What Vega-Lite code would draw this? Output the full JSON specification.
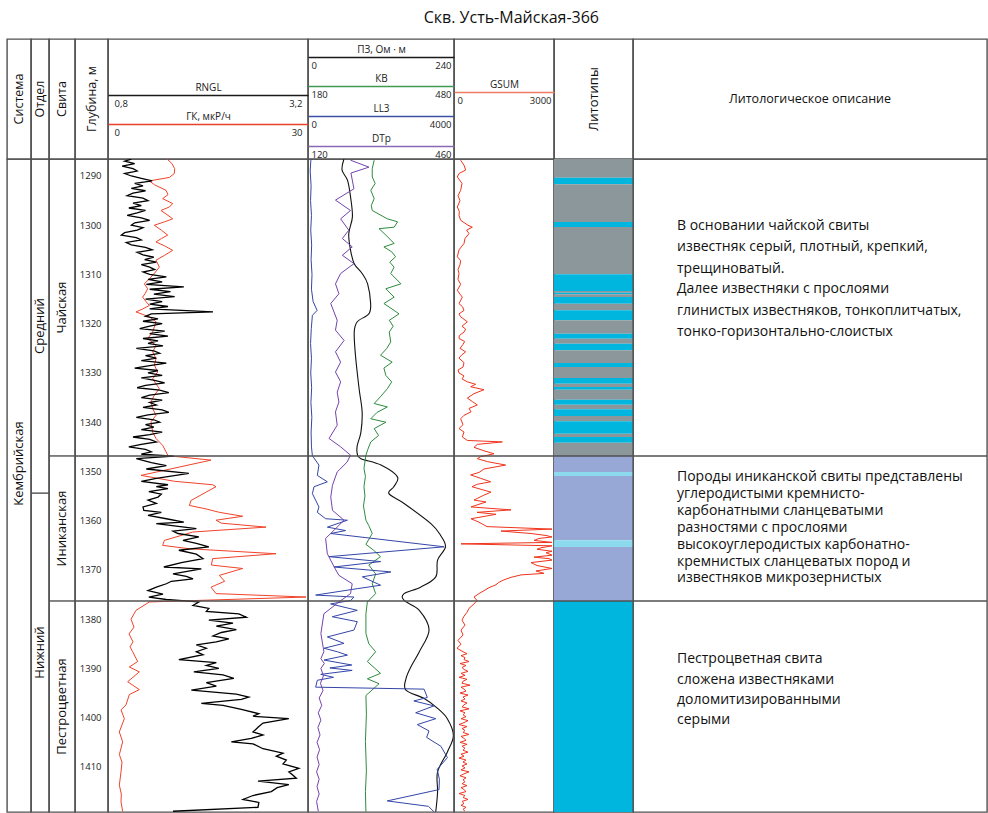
{
"$schema":"https://vega.github.io/schema/vega-lite/v6.json",
"padding":{"left":6,"top":10,"right":0,"bottom":0},
"title":{"text":"Скв. Усть-Майская-366","fontSize":16,"fontWeight":"normal","font":"Open Sans","color":"#111","anchor":"middle","offset":12,"dx":14},
"columns":9,
"spacing":0,
"bounds":"flush",
"align":"each",
"datasets":{
"units":[
{"lvl":"Система","name":"Кембрийская","top":1286.55,"bot":1419.15},
{"lvl":"Отдел","name":"Средний","top":1286.55,"bot":1354.4},
{"lvl":"Отдел","name":"Нижний","top":1354.4,"bot":1419.15},
{"lvl":"Свита","name":"Чайская","top":1286.55,"bot":1346.85},
{"lvl":"Свита","name":"Иниканская","top":1346.85,"bot":1376.3},
{"lvl":"Свита","name":"Пестроцветная","top":1376.3,"bot":1419.15}],
"bnd":[{"lvl":"Свита","d":1346.85},{"lvl":"Свита","d":1376.3},{"lvl":"Отдел","d":1354.4}],
"lith":[
{"top":1286.55,"bot":1290.35,"lith":"известняк серый"},
{"top":1290.35,"bot":1291.69,"lith":"известняк"},
{"top":1291.69,"bot":1299.34,"lith":"известняк серый"},
{"top":1299.34,"bot":1300.36,"lith":"известняк"},
{"top":1300.36,"bot":1309.96,"lith":"известняк серый"},
{"top":1309.96,"bot":1313.35,"lith":"известняк"},
{"top":1313.35,"bot":1313.7,"lith":"известняк серый"},
{"top":1313.7,"bot":1314.02,"lith":"известняк"},
{"top":1314.02,"bot":1314.57,"lith":"известняк серый"},
{"top":1314.57,"bot":1315.93,"lith":"известняк"},
{"top":1315.93,"bot":1317.27,"lith":"известняк серый"},
{"top":1317.27,"bot":1319.3,"lith":"известняк"},
{"top":1319.3,"bot":1322.02,"lith":"известняк серый"},
{"top":1322.02,"bot":1323.04,"lith":"известняк"},
{"top":1323.04,"bot":1324.05,"lith":"известняк серый"},
{"top":1324.05,"bot":1325.39,"lith":"известняк"},
{"top":1325.39,"bot":1327.97,"lith":"известняк серый"},
{"top":1327.97,"bot":1328.78,"lith":"известняк"},
{"top":1328.78,"bot":1331.02,"lith":"известняк серый"},
{"top":1331.02,"bot":1332.17,"lith":"известняк"},
{"top":1332.17,"bot":1332.84,"lith":"известняк серый"},
{"top":1332.84,"bot":1333.39,"lith":"известняк"},
{"top":1333.39,"bot":1335.42,"lith":"известняк серый"},
{"top":1335.42,"bot":1336.44,"lith":"известняк"},
{"top":1336.44,"bot":1337.37,"lith":"известняк серый"},
{"top":1337.37,"bot":1338.73,"lith":"известняк"},
{"top":1338.73,"bot":1339.81,"lith":"известняк серый"},
{"top":1339.81,"bot":1342.32,"lith":"известняк"},
{"top":1342.32,"bot":1343.0,"lith":"известняк серый"},
{"top":1343.0,"bot":1344.15,"lith":"известняк"},
{"top":1344.15,"bot":1346.85,"lith":"известняк серый"},
{"top":1346.85,"bot":1350.1,"lith":"сланцы"},
{"top":1350.1,"bot":1350.91,"lith":"прослой"},
{"top":1350.91,"bot":1363.97,"lith":"сланцы"},
{"top":1363.97,"bot":1365.33,"lith":"прослой"},
{"top":1365.33,"bot":1376.3,"lith":"сланцы"},
{"top":1376.3,"bot":1419.15,"lith":"известняк"}],
"desc":[
{"d":1300.15,"t":"В основании чайской свиты"},
{"d":1304.5,"t":"известняк серый, плотный, крепкий,"},
{"d":1308.8,"t":"трещиноватый."},
{"d":1313.0,"t":"Далее известняки с прослоями"},
{"d":1317.4,"t":"глинистых известняков, тонкоплитчатых,"},
{"d":1321.7,"t":"тонко-горизонтально-слоистых"},
{"d":1351.2,"t":"Породы иниканской свиты представлены"},
{"d":1354.6,"t":"углеродистыми кремнисто-"},
{"d":1358.05,"t":"карбонатными сланцеватыми"},
{"d":1361.5,"t":"разностями с прослоями"},
{"d":1365.0,"t":"высокоуглеродистых  карбонатно-"},
{"d":1368.45,"t":"кремнистых сланцеватых пород и"},
{"d":1371.7,"t":"известняков микрозернистых"},
{"d":1388.07,"t":"Пестроцветная свита"},
{"d":1392.34,"t":"сложена известняками"},
{"d":1396.4,"t":"доломитизированными"},
{"d":1400.46,"t":"серыми"}],
"rngl":[
{"d":1286.6,"v":1.08},{"d":1287,"v":1.0},{"d":1287.5,"v":1.12},{"d":1288,"v":0.97},{"d":1288.5,"v":1.1},{"d":1289,"v":1.15},{"d":1289.5,"v":1.0},{"d":1290,"v":1.08},{"d":1290.5,"v":1.2},{"d":1291,"v":1.33},{"d":1291.5,"v":1.12},{"d":1292,"v":1.22},{"d":1292.5,"v":1.08},{"d":1293,"v":1.25},{"d":1293.5,"v":1.1},{"d":1294,"v":1.03},{"d":1294.5,"v":1.22},{"d":1295,"v":1.28},{"d":1295.5,"v":1.1},{"d":1296,"v":1.2},{"d":1296.5,"v":1.05},{"d":1297,"v":1.25},{"d":1297.5,"v":1.15},{"d":1298,"v":1.03},{"d":1298.5,"v":1.2},{"d":1299,"v":1.3},{"d":1299.5,"v":1.12},{"d":1300,"v":1.08},{"d":1300.5,"v":1.22},{"d":1301,"v":1.15},{"d":1301.5,"v":1.0},{"d":1302,"v":0.96},{"d":1302.5,"v":1.14},{"d":1303,"v":1.2},{"d":1303.5,"v":1.02},{"d":1304,"v":1.08},{"d":1304.5,"v":1.25},{"d":1305,"v":1.33},{"d":1305.5,"v":1.15},{"d":1306,"v":1.22},{"d":1306.5,"v":1.35},{"d":1307,"v":1.24},{"d":1307.5,"v":1.38},{"d":1308,"v":1.2},{"d":1308.5,"v":1.3},{"d":1309,"v":1.36},{"d":1309.5,"v":1.22},{"d":1310,"v":1.3},{"d":1310.5,"v":1.5},{"d":1311,"v":1.28},{"d":1311.5,"v":1.45},{"d":1312,"v":1.26},{"d":1312.5,"v":1.71},{"d":1313,"v":1.3},{"d":1313.5,"v":1.55},{"d":1314,"v":1.35},{"d":1314.5,"v":1.6},{"d":1315,"v":1.25},{"d":1315.5,"v":1.45},{"d":1316,"v":1.3},{"d":1316.5,"v":1.52},{"d":1317,"v":1.3},{"d":1317.6,"v":2.06},{"d":1318,"v":1.32},{"d":1318.5,"v":1.25},{"d":1319,"v":1.4},{"d":1319.5,"v":1.22},{"d":1320,"v":1.45},{"d":1320.5,"v":1.3},{"d":1321,"v":1.18},{"d":1321.5,"v":1.48},{"d":1322,"v":1.3},{"d":1322.5,"v":1.52},{"d":1323,"v":1.22},{"d":1323.5,"v":1.4},{"d":1324,"v":1.28},{"d":1324.5,"v":1.46},{"d":1325,"v":1.14},{"d":1325.5,"v":1.35},{"d":1326,"v":1.42},{"d":1326.5,"v":1.25},{"d":1327,"v":1.38},{"d":1327.5,"v":1.2},{"d":1328,"v":1.5},{"d":1328.5,"v":1.3},{"d":1329,"v":1.12},{"d":1329.5,"v":1.4},{"d":1330,"v":1.28},{"d":1330.5,"v":1.45},{"d":1331,"v":1.2},{"d":1331.5,"v":1.36},{"d":1332,"v":1.48},{"d":1332.5,"v":1.25},{"d":1333,"v":1.15},{"d":1333.5,"v":1.42},{"d":1334,"v":1.53},{"d":1334.5,"v":1.3},{"d":1335,"v":1.2},{"d":1335.5,"v":1.45},{"d":1336,"v":1.3},{"d":1336.5,"v":1.38},{"d":1337,"v":1.22},{"d":1337.5,"v":1.45},{"d":1338,"v":1.53},{"d":1338.5,"v":1.28},{"d":1339,"v":1.14},{"d":1339.5,"v":1.35},{"d":1340,"v":1.42},{"d":1340.5,"v":1.25},{"d":1341,"v":1.35},{"d":1341.5,"v":1.2},{"d":1342,"v":1.45},{"d":1342.5,"v":1.3},{"d":1343,"v":1.1},{"d":1343.5,"v":1.3},{"d":1344,"v":1.38},{"d":1344.5,"v":1.2},{"d":1345,"v":1.05},{"d":1345.5,"v":1.25},{"d":1346,"v":1.32},{"d":1346.5,"v":1.2},
{"d":1346.9,"v":1.59},{"d":1347.4,"v":1.14},{"d":1348.2,"v":1.32},{"d":1348.8,"v":1.5},{"d":1349.5,"v":1.26},{"d":1350.4,"v":1.77},{"d":1351.4,"v":1.38},{"d":1352,"v":1.2},{"d":1352.7,"v":1.52},{"d":1353.1,"v":1.38},{"d":1353.5,"v":1.52},{"d":1354.1,"v":1.29},{"d":1354.6,"v":1.44},{"d":1355.2,"v":1.4},{"d":1355.8,"v":1.28},{"d":1356.5,"v":1.38},{"d":1357.2,"v":1.22},{"d":1357.9,"v":1.23},{"d":1358.3,"v":1.44},{"d":1358.9,"v":1.28},{"d":1359.6,"v":1.5},{"d":1360.3,"v":1.71},{"d":1360.6,"v":1.38},{"d":1361.6,"v":1.86},{"d":1362.1,"v":1.58},{"d":1362.6,"v":1.64},{"d":1363.3,"v":1.89},{"d":1364,"v":1.7},{"d":1364.6,"v":1.86},{"d":1365.3,"v":2.01},{"d":1366,"v":1.65},{"d":1366.8,"v":1.86},{"d":1367.7,"v":1.94},{"d":1368.5,"v":1.68},{"d":1369.4,"v":1.47},{"d":1369.8,"v":1.92},{"d":1370.8,"v":1.58},{"d":1371.3,"v":1.74},{"d":1371.8,"v":1.82},{"d":1372.3,"v":1.56},{"d":1372.8,"v":1.5},{"d":1373.5,"v":1.38},{"d":1374.2,"v":1.28},{"d":1374.9,"v":1.46},{"d":1375.5,"v":1.29},{"d":1376,"v":1.5},
{"d":1376.5,"v":1.89},{"d":1377.2,"v":1.82},{"d":1377.8,"v":2.01},{"d":1378.4,"v":1.98},{"d":1378.9,"v":2.37},{"d":1379.6,"v":2.46},{"d":1380.2,"v":2.01},{"d":1380.8,"v":2.3},{"d":1381.4,"v":2.1},{"d":1382.1,"v":2.34},{"d":1382.7,"v":2.16},{"d":1383.4,"v":2.06},{"d":1384,"v":2.25},{"d":1384.6,"v":2.1},{"d":1385.2,"v":1.86},{"d":1385.9,"v":1.98},{"d":1386.6,"v":1.86},{"d":1387.2,"v":1.94},{"d":1388.2,"v":1.65},{"d":1388.8,"v":2.1},{"d":1389.4,"v":1.98},{"d":1390,"v":2.13},{"d":1390.7,"v":1.83},{"d":1391.3,"v":2.18},{"d":1392,"v":2.31},{"d":1392.9,"v":1.98},{"d":1393.6,"v":2.1},{"d":1394.4,"v":1.8},{"d":1395.2,"v":2.34},{"d":1395.8,"v":2.49},{"d":1396.3,"v":2.4},{"d":1397.1,"v":1.92},{"d":1397.5,"v":2.18},{"d":1398.3,"v":2.4},{"d":1399.2,"v":2.61},{"d":1399.7,"v":2.54},{"d":1400.2,"v":2.97},{"d":1401.1,"v":2.66},{"d":1401.8,"v":2.61},{"d":1402.9,"v":2.54},{"d":1403.5,"v":2.66},{"d":1404.2,"v":2.52},{"d":1404.9,"v":2.28},{"d":1405.3,"v":2.54},{"d":1406.3,"v":2.66},{"d":1407.2,"v":2.9},{"d":1407.8,"v":2.82},{"d":1408.6,"v":2.94},{"d":1409.4,"v":2.9},{"d":1410.3,"v":3.09},{"d":1411,"v":2.97},{"d":1411.7,"v":3.02},{"d":1412.3,"v":3.06},{"d":1412.9,"v":2.6},{"d":1413.6,"v":2.97},{"d":1414.2,"v":2.83},{"d":1415,"v":2.76},{"d":1415.8,"v":2.54},{"d":1416.6,"v":2.42},{"d":1417.2,"v":2.61},{"d":1418.2,"v":2.6},{"d":1419,"v":1.58}],
"gk":[
{"d":1286.6,"v":8.9},{"d":1287.5,"v":9.6},{"d":1288.5,"v":10.0},{"d":1289.5,"v":9.95},{"d":1290.3,"v":9.2},{"d":1291.0,"v":6.2},{"d":1291.8,"v":7.0},{"d":1292.9,"v":8.7},{"d":1293.8,"v":9.0},{"d":1294.6,"v":8.2},{"d":1295.6,"v":9.7},{"d":1296.3,"v":9.2},{"d":1297.0,"v":7.95},{"d":1298.0,"v":9.0},{"d":1298.7,"v":9.7},{"d":1299.3,"v":8.5},{"d":1300.0,"v":6.95},{"d":1301.0,"v":8.0},{"d":1302.0,"v":8.96},{"d":1302.7,"v":8.0},{"d":1303.4,"v":7.2},{"d":1304.2,"v":8.5},{"d":1305.1,"v":9.7},{"d":1306.1,"v":8.5},{"d":1307.1,"v":7.2},{"d":1308.5,"v":7.7},{"d":1309.7,"v":7.0},{"d":1310.9,"v":6.2},{"d":1311.9,"v":5.45},{"d":1312.9,"v":5.95},{"d":1313.8,"v":5.6},{"d":1314.6,"v":5.2},{"d":1315.5,"v":5.7},{"d":1316.3,"v":6.2},{"d":1317.0,"v":5.2},{"d":1317.6,"v":4.2},{"d":1318.6,"v":6.2},{"d":1319.6,"v":7.2},{"d":1321.7,"v":6.7},{"d":1323.0,"v":5.95},{"d":1324.4,"v":7.2},{"d":1325.7,"v":6.7},{"d":1327.1,"v":7.2},{"d":1328.4,"v":6.95},{"d":1329.8,"v":7.45},{"d":1331.2,"v":6.7},{"d":1333.2,"v":7.7},{"d":1334.5,"v":6.95},{"d":1335.9,"v":6.45},{"d":1337.2,"v":6.7},{"d":1338.6,"v":7.2},{"d":1339.9,"v":6.45},{"d":1342.0,"v":6.7},{"d":1343.3,"v":7.2},{"d":1344.7,"v":8.2},{"d":1346.0,"v":8.7},{"d":1346.8,"v":9.0},
{"d":1347.7,"v":15.45},{"d":1350.8,"v":4.95},{"d":1352.0,"v":10.0},{"d":1352.7,"v":15.7},{"d":1353.1,"v":16.2},{"d":1354.2,"v":14.7},{"d":1355.9,"v":12.45},{"d":1356.9,"v":12.2},{"d":1357.6,"v":14.7},{"d":1358.3,"v":16.7},{"d":1359.1,"v":20.2},{"d":1359.9,"v":16.2},{"d":1360.5,"v":17.0},{"d":1361.3,"v":23.7},{"d":1362.3,"v":12.7},{"d":1364.0,"v":8.45},{"d":1365.0,"v":8.2},{"d":1365.7,"v":12.2},{"d":1366.7,"v":25.2},{"d":1367.7,"v":15.7},{"d":1369.0,"v":15.5},{"d":1369.7,"v":20.2},{"d":1371.1,"v":16.7},{"d":1372.3,"v":17.5},{"d":1373.5,"v":15.45},{"d":1374.8,"v":16.2},{"d":1375.5,"v":29.7},{"d":1376.5,"v":6.2},
{"d":1378.2,"v":4.2},{"d":1380.0,"v":3.45},{"d":1381.6,"v":3.9},{"d":1383.0,"v":3.15},{"d":1384.6,"v":3.75},{"d":1385.6,"v":3.3},{"d":1386.6,"v":3.7},{"d":1388.6,"v":4.45},{"d":1389.7,"v":3.2},{"d":1390.7,"v":4.7},{"d":1392.7,"v":2.95},{"d":1394.3,"v":4.7},{"d":1395.3,"v":3.2},{"d":1397.4,"v":2.7},{"d":1398.4,"v":1.95},{"d":1400.2,"v":2.45},{"d":1402.9,"v":1.7},{"d":1404.9,"v":2.2},{"d":1407.5,"v":1.7},{"d":1409.0,"v":2.1},{"d":1411.0,"v":1.95},{"d":1413.7,"v":1.7},{"d":1415.5,"v":2.0},{"d":1417.1,"v":1.95},{"d":1419.0,"v":2.2}],
"pz":[
{"d":1286.6,"v":59},{"d":1288.8,"v":56},{"d":1290.9,"v":65},{"d":1294.3,"v":70},{"d":1298.3,"v":73},{"d":1301.7,"v":67},{"d":1305.1,"v":70},{"d":1307.8,"v":76},{"d":1309.8,"v":89},{"d":1311.9,"v":98},{"d":1315.9,"v":103},{"d":1318,"v":100},{"d":1319.6,"v":81},{"d":1321.7,"v":76},{"d":1326.4,"v":78},{"d":1333.2,"v":84},{"d":1337.9,"v":89},{"d":1342,"v":87},{"d":1344.7,"v":81},{"d":1346.4,"v":81},{"d":1347.4,"v":87},{"d":1348.7,"v":120},{"d":1351.1,"v":147},{"d":1353.1,"v":141},{"d":1354.5,"v":133},{"d":1356.5,"v":158},{"d":1360.6,"v":202},{"d":1363,"v":218},{"d":1365.3,"v":226},{"d":1368,"v":213},{"d":1371.4,"v":210},{"d":1373.5,"v":185},{"d":1374.8,"v":158},{"d":1376.2,"v":158},{"d":1378.2,"v":183},{"d":1382.2,"v":199},{"d":1386.6,"v":183},{"d":1389.7,"v":169},{"d":1392.1,"v":161},{"d":1394.4,"v":161},{"d":1396.1,"v":191},{"d":1398,"v":212},{"d":1400.2,"v":229},{"d":1403.6,"v":239},{"d":1407,"v":229},{"d":1411,"v":213},{"d":1415.1,"v":213},{"d":1419.1,"v":210}],
"kv":[
{"d":1286.8,"v":316},{"d":1288.5,"v":312},{"d":1290.2,"v":312},{"d":1291.5,"v":318},{"d":1292.9,"v":309},{"d":1294.6,"v":316},{"d":1296,"v":310},{"d":1297,"v":312},{"d":1298.7,"v":343},{"d":1299.3,"v":364},{"d":1300.4,"v":357},{"d":1300.7,"v":326},{"d":1302,"v":340},{"d":1303.7,"v":357},{"d":1304.4,"v":336},{"d":1305.4,"v":352},{"d":1306.4,"v":360},{"d":1307.5,"v":348},{"d":1308.5,"v":357},{"d":1309.8,"v":350},{"d":1311.9,"v":371},{"d":1312.9,"v":340},{"d":1314.6,"v":357},{"d":1315.9,"v":336},{"d":1317.3,"v":357},{"d":1318,"v":367},{"d":1319.3,"v":347},{"d":1320.5,"v":355},{"d":1321.7,"v":347},{"d":1323.7,"v":350},{"d":1325,"v":342},{"d":1326.4,"v":329},{"d":1327.8,"v":353},{"d":1329,"v":336},{"d":1330.5,"v":340},{"d":1331.8,"v":352},{"d":1333.2,"v":343},{"d":1334.7,"v":330},{"d":1336.2,"v":316},{"d":1336.9,"v":343},{"d":1338,"v":322},{"d":1339.3,"v":309},{"d":1340,"v":340},{"d":1341.3,"v":316},{"d":1342.7,"v":325},{"d":1344,"v":309},{"d":1345.5,"v":303},{"d":1346.7,"v":299},{"d":1349.4,"v":295},{"d":1351,"v":298},{"d":1353.1,"v":295},{"d":1355,"v":297},{"d":1357,"v":294},{"d":1359.9,"v":299},{"d":1361,"v":305},{"d":1362.6,"v":312},{"d":1364.8,"v":299},{"d":1366,"v":315},{"d":1367.3,"v":329},{"d":1369,"v":305},{"d":1370.8,"v":319},{"d":1372.8,"v":312},{"d":1374.8,"v":319},{"d":1376.5,"v":302},{"d":1378.9,"v":299},{"d":1382.9,"v":299},{"d":1385,"v":305},{"d":1386.6,"v":319},{"d":1388.6,"v":302},{"d":1391,"v":329},{"d":1392.1,"v":302},{"d":1393.1,"v":326},{"d":1395.5,"v":299},{"d":1399.3,"v":300},{"d":1404.8,"v":298},{"d":1410.8,"v":300},{"d":1415,"v":298},{"d":1419.1,"v":299}],
"ll3":[
{"d":1286.6,"v":80},{"d":1289,"v":60},{"d":1292,"v":85},{"d":1295,"v":70},{"d":1298,"v":95},{"d":1301,"v":75},{"d":1304,"v":100},{"d":1307,"v":85},{"d":1310,"v":110},{"d":1313,"v":95},{"d":1315.5,"v":140},{"d":1317.3,"v":250},{"d":1318.3,"v":120},{"d":1321,"v":90},{"d":1324,"v":70},{"d":1327,"v":95},{"d":1330,"v":75},{"d":1333,"v":100},{"d":1336,"v":80},{"d":1339,"v":105},{"d":1342,"v":85},{"d":1345,"v":95},{"d":1346.8,"v":120},
{"d":1348.7,"v":300},{"d":1350.8,"v":255},{"d":1352.1,"v":530},{"d":1353.1,"v":165},{"d":1354.5,"v":120},{"d":1357.2,"v":300},{"d":1358.3,"v":255},{"d":1359.6,"v":485},{"d":1359.9,"v":1080},{"d":1361.3,"v":530},{"d":1362,"v":1030},{"d":1362.6,"v":620},{"d":1365.3,"v":3730},{"d":1367.3,"v":575},{"d":1368.3,"v":1990},{"d":1369.4,"v":710},{"d":1370.4,"v":2270},{"d":1371.4,"v":1490},{"d":1373.1,"v":1990},{"d":1373.8,"v":1350},{"d":1375.1,"v":210},{"d":1375.5,"v":1260},{"d":1376.2,"v":1170},{"d":1376.9,"v":620},{"d":1378.2,"v":1350},{"d":1379.5,"v":665},{"d":1380.5,"v":1350},{"d":1382.2,"v":1260},{"d":1383.6,"v":530},{"d":1384.9,"v":985},{"d":1385.9,"v":440},
{"d":1386.6,"v":800},{"d":1387.3,"v":1080},{"d":1388.3,"v":440},{"d":1389.3,"v":1200},{"d":1389.9,"v":600},{"d":1390.4,"v":1210},{"d":1391.2,"v":350},{"d":1391.8,"v":700},{"d":1392.4,"v":255},{"d":1393.8,"v":210},{"d":1394.2,"v":3180},{"d":1395.9,"v":3270},{"d":1396.6,"v":2900},{"d":1397.6,"v":3450},{"d":1399,"v":2950},{"d":1400.2,"v":3500},{"d":1401.4,"v":2995},{"d":1402.7,"v":3315},{"d":1404,"v":3250},{"d":1405.8,"v":3640},{"d":1408.1,"v":3820},{"d":1410.5,"v":3540},{"d":1412.5,"v":3600},{"d":1414.6,"v":3590},{"d":1416.9,"v":2170},{"d":1418,"v":3300},{"d":1419.1,"v":3450}],
"dtp":[
{"d":1286.8,"v":219},{"d":1288.2,"v":262},{"d":1289.4,"v":220},{"d":1292.6,"v":227},{"d":1294.9,"v":184},{"d":1297,"v":219},{"d":1298.7,"v":196},{"d":1301,"v":215},{"d":1302.7,"v":200},{"d":1304.4,"v":223},{"d":1306.1,"v":200},{"d":1307.8,"v":227},{"d":1309.8,"v":196},{"d":1311.9,"v":184},{"d":1313.9,"v":192},{"d":1315.9,"v":173},{"d":1319.3,"v":188},{"d":1321.3,"v":184},{"d":1323.4,"v":204},{"d":1325.7,"v":184},{"d":1327.8,"v":196},{"d":1329.8,"v":184},{"d":1331.8,"v":196},{"d":1333.9,"v":188},{"d":1335.9,"v":192},{"d":1337.9,"v":184},{"d":1340.6,"v":188},{"d":1343.3,"v":169},{"d":1345,"v":196},{"d":1346.7,"v":219},{"d":1348.1,"v":211},{"d":1350.1,"v":188},{"d":1352.8,"v":177},{"d":1355.2,"v":173},{"d":1357.9,"v":177},{"d":1359.9,"v":204},{"d":1361.9,"v":181},{"d":1363.6,"v":161},{"d":1366.7,"v":165},{"d":1369.4,"v":181},{"d":1371.1,"v":192},{"d":1372.8,"v":223},{"d":1374.8,"v":219},{"d":1376.5,"v":192},{"d":1378.9,"v":157},{"d":1382.9,"v":150},{"d":1386.6,"v":157},{"d":1388,"v":150},{"d":1389,"v":158},{"d":1390,"v":150},{"d":1391.5,"v":156},{"d":1393,"v":149},{"d":1394.5,"v":155},{"d":1396,"v":146},{"d":1397.5,"v":152},{"d":1399,"v":144},{"d":1400.5,"v":150},{"d":1402,"v":143},{"d":1403.5,"v":148},{"d":1405,"v":141},{"d":1406.5,"v":147},{"d":1408,"v":141},{"d":1409.5,"v":146},{"d":1411,"v":140},{"d":1412.5,"v":146},{"d":1414,"v":141},{"d":1415.5,"v":146},{"d":1417,"v":140},{"d":1419,"v":144}],
"gsum":[
{"d":1286.8,"v":200},{"d":1287.8,"v":300},{"d":1288.8,"v":350},{"d":1289.5,"v":150},{"d":1290.2,"v":100},{"d":1291.5,"v":240},{"d":1292.9,"v":200},{"d":1294,"v":120},{"d":1295,"v":180},{"d":1296.3,"v":100},{"d":1297.2,"v":160},{"d":1298,"v":150},{"d":1299,"v":200},{"d":1300,"v":420},{"d":1300.4,"v":550},{"d":1301,"v":380},{"d":1301.7,"v":450},{"d":1302.7,"v":330},{"d":1303.7,"v":300},{"d":1305,"v":150},{"d":1306.4,"v":100},{"d":1307.2,"v":200},{"d":1308,"v":180},{"d":1309,"v":120},{"d":1309.8,"v":150},{"d":1311,"v":120},{"d":1312,"v":200},{"d":1313.2,"v":100},{"d":1314,"v":180},{"d":1314.6,"v":250},{"d":1315.9,"v":150},{"d":1316.6,"v":260},{"d":1317.3,"v":300},{"d":1318,"v":150},{"d":1318.6,"v":200},{"d":1319.6,"v":400},{"d":1320.5,"v":240},{"d":1321.1,"v":350},{"d":1321.7,"v":300},{"d":1322.4,"v":160},{"d":1323,"v":150},{"d":1323.6,"v":320},{"d":1324.2,"v":270},{"d":1325,"v":180},{"d":1325.7,"v":350},{"d":1326.4,"v":220},{"d":1327,"v":150},{"d":1327.9,"v":300},{"d":1328.8,"v":270},{"d":1329.4,"v":120},{"d":1330,"v":150},{"d":1330.6,"v":300},{"d":1331.2,"v":240},{"d":1331.8,"v":400},{"d":1332.3,"v":650},{"d":1332.8,"v":500},{"d":1333.4,"v":900},{"d":1334.2,"v":600},{"d":1335.1,"v":400},{"d":1335.8,"v":550},{"d":1336.5,"v":700},{"d":1337.2,"v":450},{"d":1337.9,"v":510},{"d":1338.6,"v":300},{"d":1339.3,"v":200},{"d":1340.5,"v":270},{"d":1341.3,"v":150},{"d":1342,"v":300},{"d":1343,"v":250},{"d":1343.7,"v":400},{"d":1344,"v":1450},{"d":1344.5,"v":700},{"d":1345.1,"v":600},{"d":1345.8,"v":900},{"d":1346.4,"v":1200},{"d":1347,"v":800},{"d":1347.4,"v":700},{"d":1348,"v":1000},{"d":1348.7,"v":1550},{"d":1349.5,"v":900},{"d":1350.2,"v":750},{"d":1350.7,"v":500},{"d":1351.4,"v":800},{"d":1352.1,"v":1100},{"d":1352.6,"v":700},
{"d":1353.1,"v":540},{"d":1354.2,"v":1110},{"d":1354.8,"v":900},{"d":1355.8,"v":600},{"d":1356.2,"v":960},{"d":1357.2,"v":510},{"d":1357.8,"v":1710},{"d":1358.3,"v":690},{"d":1358.7,"v":1260},{"d":1359.6,"v":510},{"d":1360.3,"v":750},{"d":1361.2,"v":990},{"d":1361.7,"v":2940},{"d":1362.1,"v":1410},{"d":1362.6,"v":2310},{"d":1363,"v":2760},{"d":1363.3,"v":2940},{"d":1363.6,"v":2550},{"d":1364,"v":2400},{"d":1364.4,"v":2940},{"d":1364.7,"v":210},{"d":1365.1,"v":2940},{"d":1365.5,"v":2610},{"d":1365.8,"v":2490},{"d":1366.2,"v":2940},{"d":1366.5,"v":2760},{"d":1367,"v":2940},{"d":1367.4,"v":2400},{"d":1367.7,"v":2850},{"d":1368,"v":2940},{"d":1368.5,"v":2310},{"d":1369.1,"v":2490},{"d":1369.7,"v":2940},{"d":1370.2,"v":2460},{"d":1370.7,"v":2700},{"d":1371,"v":2010},{"d":1371.5,"v":1710},{"d":1372,"v":1500},{"d":1372.5,"v":1350},{"d":1373,"v":1260},{"d":1373.6,"v":1050},{"d":1374.2,"v":900},{"d":1374.8,"v":750},{"d":1375.5,"v":600},{"d":1376.2,"v":690},{"d":1376.9,"v":600},{"d":1377.8,"v":450},{"d":1378.6,"v":390},{"d":1379.4,"v":300},{"d":1380.2,"v":240},{"d":1381.2,"v":330},{"d":1382.2,"v":210},{"d":1383.2,"v":270},{"d":1384.3,"v":120},{"d":1385.1,"v":210},{"d":1385.9,"v":90},
{"d":1386.6,"v":270},{"d":1387.0,"v":390},{"d":1387.4,"v":210},{"d":1387.8,"v":330},{"d":1388.2,"v":300},{"d":1388.6,"v":450},{"d":1389.0,"v":180},{"d":1389.4,"v":360},{"d":1389.8,"v":240},{"d":1390.2,"v":300},{"d":1390.6,"v":420},{"d":1391.0,"v":210},{"d":1391.4,"v":330},{"d":1391.8,"v":150},{"d":1392.2,"v":390},{"d":1392.6,"v":270},{"d":1393.0,"v":240},{"d":1393.4,"v":480},{"d":1393.8,"v":210},{"d":1394.2,"v":300},{"d":1394.6,"v":360},{"d":1395.0,"v":180},{"d":1395.4,"v":420},{"d":1395.8,"v":270},{"d":1396.2,"v":330},{"d":1396.6,"v":210},{"d":1397.0,"v":390},{"d":1397.4,"v":300},{"d":1397.8,"v":240},{"d":1398.2,"v":450},{"d":1398.6,"v":180},{"d":1399.0,"v":330},{"d":1399.4,"v":270},{"d":1399.8,"v":360},{"d":1400.2,"v":210},{"d":1400.6,"v":420},{"d":1401.0,"v":300},{"d":1401.4,"v":150},{"d":1401.8,"v":390},{"d":1402.2,"v":240},{"d":1402.6,"v":330},{"d":1403.0,"v":270},{"d":1403.4,"v":450},{"d":1403.8,"v":210},{"d":1404.2,"v":300},{"d":1404.6,"v":360},{"d":1405.0,"v":180},{"d":1405.4,"v":390},{"d":1405.8,"v":240},{"d":1406.2,"v":330},{"d":1406.6,"v":270},{"d":1407.0,"v":420},{"d":1407.4,"v":210},{"d":1407.8,"v":300},{"d":1408.2,"v":150},{"d":1408.6,"v":360},{"d":1409.0,"v":270},{"d":1409.4,"v":390},{"d":1409.8,"v":240},{"d":1410.2,"v":330},{"d":1410.6,"v":210},{"d":1411.0,"v":450},{"d":1411.4,"v":300},{"d":1411.8,"v":180},{"d":1412.2,"v":360},{"d":1412.6,"v":270},{"d":1413.0,"v":330},{"d":1413.4,"v":240},{"d":1413.8,"v":390},{"d":1414.2,"v":210},{"d":1414.6,"v":300},{"d":1415.0,"v":360},{"d":1415.4,"v":150},{"d":1415.8,"v":330},{"d":1416.2,"v":270},{"d":1416.6,"v":420},{"d":1417.0,"v":240},{"d":1417.4,"v":300},{"d":1417.8,"v":210},{"d":1418.2,"v":360},{"d":1418.6,"v":270},{"d":1419.0,"v":330}]
},
"concat":[
{"width":24,"height":120,"data":{"values":[{"t":"Система"}]},"mark":{"type":"text","angle":270,"fontSize":12.5},"encoding":{"x":{"field":"t","type":"nominal","axis":null},"y":{"field":"t","type":"nominal","axis":null},"text":{"field":"t"}}},
{"width":18,"height":120,"data":{"values":[{"t":"Отдел"}]},"mark":{"type":"text","angle":270,"fontSize":12.5},"encoding":{"x":{"field":"t","type":"nominal","axis":null},"y":{"field":"t","type":"nominal","axis":null},"text":{"field":"t"}}},
{"width":26,"height":120,"data":{"values":[{"t":"Свита"}]},"mark":{"type":"text","angle":270,"fontSize":12.5},"encoding":{"x":{"field":"t","type":"nominal","axis":null},"y":{"field":"t","type":"nominal","axis":null},"text":{"field":"t"}}},
{"width":33,"height":120,"data":{"values":[{"t":"Глубина, м"}]},"mark":{"type":"text","angle":270,"fontSize":12.5},"encoding":{"x":{"field":"t","type":"nominal","axis":null},"y":{"field":"t","type":"nominal","axis":null},"text":{"field":"t"}}},
{"width":200,"height":120,"data":{"values":[{"t":""}]},"mark":{"type":"text"},"encoding":{"x":{"field":"t","type":"nominal","axis":null},"y":{"field":"t","type":"nominal","axis":null},"text":{"field":"t"}}},
{"width":146,"height":120,"data":{"values":[{"t":""}]},"mark":{"type":"text"},"encoding":{"x":{"field":"t","type":"nominal","axis":null},"y":{"field":"t","type":"nominal","axis":null},"text":{"field":"t"}}},
{"width":100,"height":120,"data":{"values":[{"t":""}]},"mark":{"type":"text"},"encoding":{"x":{"field":"t","type":"nominal","axis":null},"y":{"field":"t","type":"nominal","axis":null},"text":{"field":"t"}}},
{"width":79,"height":120,"data":{"values":[{"t":"Литотипы"}]},"mark":{"type":"text","angle":270,"fontSize":13},"encoding":{"x":{"field":"t","type":"nominal","axis":null},"y":{"field":"t","type":"nominal","axis":null},"text":{"field":"t"}}},
{"width":354,"height":120,"data":{"values":[{"t":"Литологическое описание"}]},"mark":{"type":"text","fontSize":12.5},"encoding":{"x":{"field":"t","type":"nominal","axis":null},"y":{"field":"t","type":"nominal","axis":null},"text":{"field":"t"}}},

{"width":24,"height":653,"data":{"name":"units"},"transform":[{"filter":"datum.lvl=='Система'"},{"calculate":"(datum.top+datum.bot)/2","as":"d"}],"mark":{"type":"text","angle":270,"fontSize":13,"dx":22},"encoding":{"y":{"field":"d","type":"quantitative","scale":{"domain":[1286.55,1419.15],"reverse":true,"nice":false,"zero":false},"axis":null},"text":{"field":"name"}}},
{"width":18,"height":653,"layer":[
 {"data":{"name":"units"},"transform":[{"filter":"datum.lvl=='Отдел'"},{"calculate":"(datum.top+datum.bot)/2","as":"d"}],"mark":{"type":"text","angle":270,"fontSize":13},"encoding":{"y":{"field":"d","type":"quantitative","scale":{"domain":[1286.55,1419.15],"reverse":true,"nice":false,"zero":false},"axis":null},"text":{"field":"name"}}},
 {"data":{"name":"bnd"},"transform":[{"filter":"datum.lvl=='Отдел'"}],"mark":{"type":"rule","color":"#505050","strokeWidth":1.4},"encoding":{"y":{"field":"d","type":"quantitative","scale":{"domain":[1286.55,1419.15],"reverse":true,"nice":false,"zero":false},"axis":null}}}]},
{"width":26,"height":653,"layer":[
 {"data":{"name":"units"},"transform":[{"filter":"datum.lvl=='Свита'"},{"calculate":"(datum.top+datum.bot)/2","as":"d"}],"mark":{"type":"text","angle":270,"fontSize":13},"encoding":{"y":{"field":"d","type":"quantitative","scale":{"domain":[1286.55,1419.15],"reverse":true,"nice":false,"zero":false},"axis":null},"text":{"field":"name"}}},
 {"data":{"name":"bnd"},"transform":[{"filter":"datum.lvl=='Свита'"}],"mark":{"type":"rule","color":"#505050","strokeWidth":1.4},"encoding":{"y":{"field":"d","type":"quantitative","scale":{"domain":[1286.55,1419.15],"reverse":true,"nice":false,"zero":false},"axis":null}}}]},
{"width":33,"height":653,"data":{"name":"bnd"},"transform":[{"filter":"datum.lvl=='Свита'"}],"mark":{"type":"rule","color":"#505050","strokeWidth":1.4},"encoding":{"y":{"field":"d","type":"quantitative","scale":{"domain":[1286.55,1419.15],"reverse":true,"nice":false,"zero":false},"axis":{"orient":"left","offset":-33,"values":[1290,1300,1310,1320,1330,1340,1350,1360,1370,1380,1390,1400,1410],"format":"d","domain":false,"labelPadding":7,"labelFontSize":9.5,"title":null}}}},
{"width":200,"height":653,"layer":[
 {"data":{"name":"gk"},"mark":{"type":"line","color":"#f0432a","strokeWidth":1,"clip":true},"encoding":{"y":{"field":"d","type":"quantitative","scale":{"domain":[1286.55,1419.15],"reverse":true,"nice":false,"zero":false},"axis":null},"x":{"field":"v","type":"quantitative","scale":{"domain":[0,30],"nice":false,"zero":false},"axis":{"orient":"top","offset":35,"title":"ГК, мкР/ч","titleY":-3,"titleBaseline":"bottom","values":[0,30],"format":"d","labelFlush":true,"labelFlushOffset":-6,"labelBaseline":"top","labelPadding":-3,"domainColor":"#e8432b"}},"order":{"field":"d","type":"quantitative"}}},
 {"data":{"name":"rngl"},"mark":{"type":"line","color":"#000000","strokeWidth":1.3,"clip":true},"encoding":{"y":{"field":"d","type":"quantitative","scale":{"domain":[1286.55,1419.15],"reverse":true,"nice":false,"zero":false},"axis":null},"x":{"field":"v","type":"quantitative","scale":{"domain":[0.8,3.2],"nice":false,"zero":false},"axis":{"orient":"top","offset":64,"title":"RNGL","titleY":-3,"titleBaseline":"bottom","values":[0.8,3.2],"labelExpr":"replace(format(datum.value,'.1f'),'.',',')","labelFlush":true,"labelFlushOffset":-6,"labelBaseline":"top","labelPadding":-3,"domainColor":"#1a1a1a"}},"order":{"field":"d","type":"quantitative"}}},
 {"data":{"name":"bnd"},"transform":[{"filter":"datum.lvl=='Свита'"}],"mark":{"type":"rule","color":"#505050","strokeWidth":1.4},"encoding":{"y":{"field":"d","type":"quantitative","scale":{"domain":[1286.55,1419.15],"reverse":true,"nice":false,"zero":false},"axis":null}}}],
 "resolve":{"scale":{"x":"independent"},"axis":{"x":"independent"}}},
{"width":146,"height":653,"layer":[
 {"data":{"name":"pz"},"mark":{"type":"line","color":"#111111","strokeWidth":1.1,"interpolate":"cardinal","clip":true},"encoding":{"y":{"field":"d","type":"quantitative","scale":{"domain":[1286.55,1419.15],"reverse":true,"nice":false,"zero":false},"axis":null},"x":{"field":"v","type":"quantitative","scale":{"domain":[0,240],"nice":false,"zero":false},"axis":{"orient":"top","offset":102,"title":"ПЗ, Ом · м","titleY":-3,"titleBaseline":"bottom","values":[0,240],"format":"d","labelFlush":true,"labelFlushOffset":-3,"labelBaseline":"top","labelPadding":-3,"domainColor":"#1a1a1a"}},"order":{"field":"d","type":"quantitative"}}},
 {"data":{"name":"kv"},"mark":{"type":"line","color":"#2e8b3e","strokeWidth":1,"clip":true},"encoding":{"y":{"field":"d","type":"quantitative","scale":{"domain":[1286.55,1419.15],"reverse":true,"nice":false,"zero":false},"axis":null},"x":{"field":"v","type":"quantitative","scale":{"domain":[180,480],"nice":false,"zero":false},"axis":{"orient":"top","offset":73,"title":"КВ","titleY":-3,"titleBaseline":"bottom","values":[180,480],"format":"d","labelFlush":true,"labelFlushOffset":-3,"labelBaseline":"top","labelPadding":-3,"domainColor":"#3d9a4f"}},"order":{"field":"d","type":"quantitative"}}},
 {"data":{"name":"ll3"},"mark":{"type":"line","color":"#3346a8","strokeWidth":1,"clip":true},"encoding":{"y":{"field":"d","type":"quantitative","scale":{"domain":[1286.55,1419.15],"reverse":true,"nice":false,"zero":false},"axis":null},"x":{"field":"v","type":"quantitative","scale":{"domain":[0,4000],"nice":false,"zero":false},"axis":{"orient":"top","offset":43,"title":"LL3","titleY":-3,"titleBaseline":"bottom","values":[0,4000],"format":"d","labelFlush":true,"labelFlushOffset":-3,"labelBaseline":"top","labelPadding":-3,"domainColor":"#3b4fa6"}},"order":{"field":"d","type":"quantitative"}}},
 {"data":{"name":"dtp"},"mark":{"type":"line","color":"#7443ad","strokeWidth":1,"clip":true},"encoding":{"y":{"field":"d","type":"quantitative","scale":{"domain":[1286.55,1419.15],"reverse":true,"nice":false,"zero":false},"axis":null},"x":{"field":"v","type":"quantitative","scale":{"domain":[120,460],"nice":false,"zero":false},"axis":{"orient":"top","offset":13,"title":"DTp","titleY":-3,"titleBaseline":"bottom","values":[120,460],"format":"d","labelFlush":true,"labelFlushOffset":-3,"labelBaseline":"top","labelPadding":-3,"domainColor":"#8a68b8"}},"order":{"field":"d","type":"quantitative"}}},
 {"data":{"name":"bnd"},"transform":[{"filter":"datum.lvl=='Свита'"}],"mark":{"type":"rule","color":"#505050","strokeWidth":1.4},"encoding":{"y":{"field":"d","type":"quantitative","scale":{"domain":[1286.55,1419.15],"reverse":true,"nice":false,"zero":false},"axis":null}}}],
 "resolve":{"scale":{"x":"independent"},"axis":{"x":"independent"}}},
{"width":100,"height":653,"layer":[
 {"data":{"name":"gsum"},"mark":{"type":"line","color":"#f0341c","strokeWidth":1,"clip":true},"encoding":{"y":{"field":"d","type":"quantitative","scale":{"domain":[1286.55,1419.15],"reverse":true,"nice":false,"zero":false},"axis":null},"x":{"field":"v","type":"quantitative","scale":{"domain":[0,3000],"nice":false,"zero":false},"axis":{"orient":"top","offset":67,"title":"GSUM","titleY":-3,"titleBaseline":"bottom","values":[0,3000],"format":"d","labelFlush":true,"labelFlushOffset":-3,"labelBaseline":"top","labelPadding":-3,"domainColor":"#f07c66"}},"order":{"field":"d","type":"quantitative"}}},
 {"data":{"name":"bnd"},"transform":[{"filter":"datum.lvl=='Свита'"}],"mark":{"type":"rule","color":"#505050","strokeWidth":1.4},"encoding":{"y":{"field":"d","type":"quantitative","scale":{"domain":[1286.55,1419.15],"reverse":true,"nice":false,"zero":false},"axis":null}}}]},
{"width":79,"height":653,"layer":[
 {"data":{"name":"lith"},"mark":{"type":"rect"},"encoding":{"y":{"field":"top","type":"quantitative","scale":{"domain":[1286.55,1419.15],"reverse":true,"nice":false,"zero":false},"axis":null},"y2":{"field":"bot"},"color":{"field":"lith","type":"nominal","scale":{"domain":["известняк серый","известняк","сланцы","прослой"],"range":["#8c979b","#00b5de","#98a8d6","#8ddaee"]},"legend":null}}},
 {"data":{"name":"bnd"},"transform":[{"filter":"datum.lvl=='Свита'"}],"mark":{"type":"rule","color":"#505050","strokeWidth":1.4},"encoding":{"y":{"field":"d","type":"quantitative","scale":{"domain":[1286.55,1419.15],"reverse":true,"nice":false,"zero":false},"axis":null}}}]},
{"width":354,"height":653,"layer":[
 {"data":{"name":"desc"},"mark":{"type":"text","align":"left","baseline":"middle","fontSize":14,"dx":-133},"encoding":{"y":{"field":"d","type":"quantitative","scale":{"domain":[1286.55,1419.15],"reverse":true,"nice":false,"zero":false},"axis":null},"text":{"field":"t"}}},
 {"data":{"name":"bnd"},"transform":[{"filter":"datum.lvl=='Свита'"}],"mark":{"type":"rule","color":"#505050","strokeWidth":1.4},"encoding":{"y":{"field":"d","type":"quantitative","scale":{"domain":[1286.55,1419.15],"reverse":true,"nice":false,"zero":false},"axis":null}}}]}
],
"config":{
"font":"Open Sans",
"view":{"stroke":"#505050","strokeWidth":1.4},
"axis":{"grid":false,"ticks":false,"tickSize":0,"labelFont":"Open Sans","titleFont":"Open Sans","labelFontSize":9.5,"titleFontSize":10,"titleFontWeight":"normal","labelColor":"#222","titleColor":"#222","domainWidth":1.3},
"text":{"font":"Open Sans","color":"#111"}
}
}
